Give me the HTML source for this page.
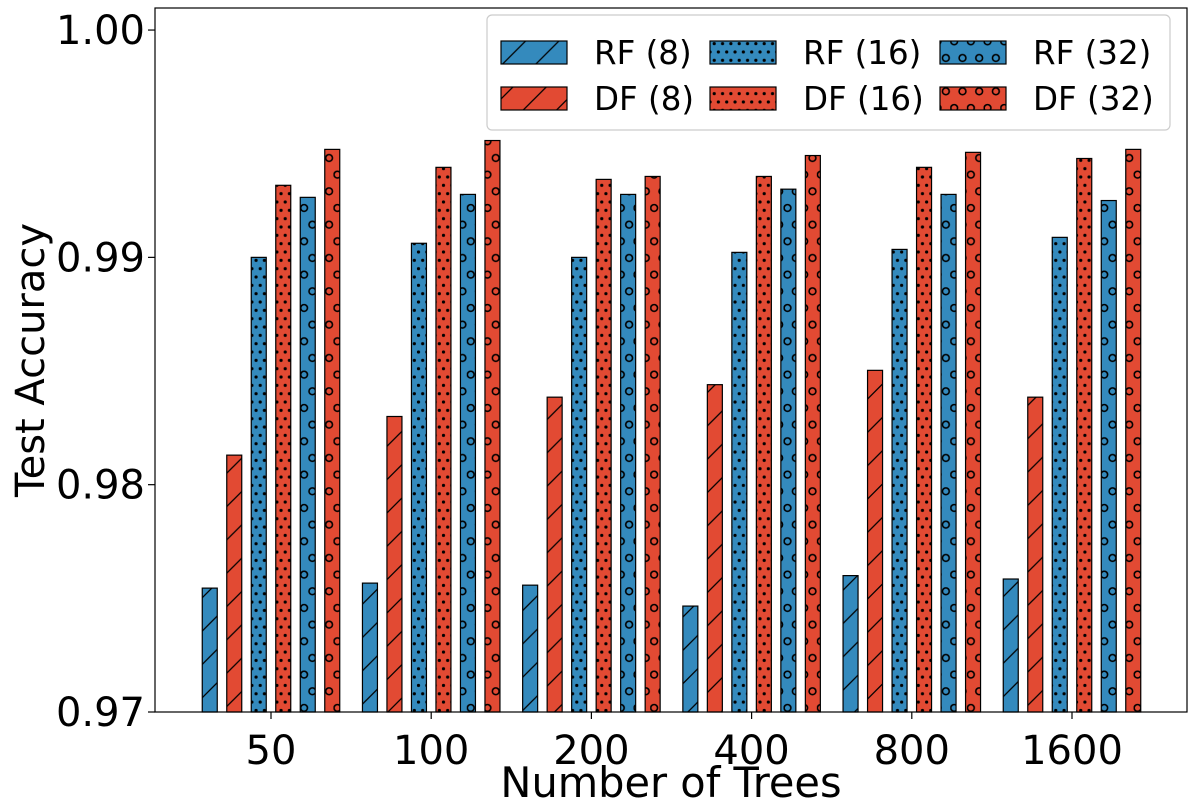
<!DOCTYPE html>
<html><head><meta charset="utf-8"><style>
body{margin:0;background:#fff;}
svg text{font-family:"DejaVu Sans","Liberation Sans",sans-serif;}
</style></head><body>
<svg id="chart" width="1200" height="800" viewBox="0 0 1200 800" xmlns="http://www.w3.org/2000/svg">
<defs>
<pattern id="p-slash" patternUnits="userSpaceOnUse" width="33.33" height="33.33">
<line x1="0" y1="33.33" x2="33.33" y2="0" stroke="#000" stroke-width="1.3"/>
<line x1="-5" y1="5" x2="5" y2="-5" stroke="#000" stroke-width="1.3"/>
<line x1="28.33" y1="38.33" x2="38.33" y2="28.33" stroke="#000" stroke-width="1.3"/>
</pattern>
<pattern id="p-dot" patternUnits="userSpaceOnUse" width="8.33" height="16.67">
<circle cx="2" cy="2" r="1.6" fill="#000"/>
<circle cx="6.17" cy="10.33" r="1.6" fill="#000"/>
</pattern>
<pattern id="p-circ" patternUnits="userSpaceOnUse" width="16.67" height="33.33">
<circle cx="4" cy="8" r="3.4" fill="none" stroke="#000" stroke-width="1.6"/>
<circle cx="12.33" cy="24.67" r="3.4" fill="none" stroke="#000" stroke-width="1.6"/>
</pattern>
</defs>
<g id="bars"></g>
<g id="axes"></g>
<g id="legend"></g>
</svg>
<script>
const categories = ["50","100","200","400","800","1600"];
const seriesNames = ["RF (8)","DF (8)","RF (16)","DF (16)","RF (32)","DF (32)"];
const rf8  = [0.97545,0.97567,0.97558,0.97466,0.97600,0.97585];
const df8  = [0.98130,0.98300,0.98385,0.98440,0.98503,0.98385];
const rf16 = [0.99000,0.99062,0.99000,0.99022,0.99035,0.99088];
const df16 = [0.99317,0.99396,0.99343,0.99356,0.99396,0.99435];
const rf32 = [0.99264,0.99277,0.99277,0.99300,0.99277,0.99250];
const df32 = [0.99475,0.99514,0.99356,0.99448,0.99462,0.99475];
const yTicks = [0.97,0.98,0.99,1.00];
const yTickLabels = ["0.97","0.98","0.99","1.00"];

const series=[rf8,df8,rf16,df16,rf32,df32];
const colors=["#348ABD","#E24A33","#348ABD","#E24A33","#348ABD","#E24A33"];
const pats=["p-slash","p-slash","p-dot","p-dot","p-circ","p-circ"];
const NS="http://www.w3.org/2000/svg";
const L=155,R=1187,T=8,B=712,yMin=0.97,yMax=1.00097;
const y=v=>B-(v-yMin)/(yMax-yMin)*(B-T);
const x=i=>271+i*160.2;
function mk(tag,attrs,parent){const e=document.createElementNS(NS,tag);for(const k in attrs)e.setAttribute(k,attrs[k]);parent.appendChild(e);return e;}
const gb=document.getElementById('bars'),ga=document.getElementById('axes'),gl=document.getElementById('legend');
const bw=15,step=24.5;
series.forEach((s,si)=>{
  s.forEach((v,ci)=>{
    const bx=x(ci)+(si-2.5)*step-bw/2, by=y(v);
    const r=mk('rect',{x:bx,y:by,width:bw,height:B-by,fill:colors[si]},gb);
    
    
    mk('rect',{x:bx,y:by,width:bw,height:B-by,fill:'url(#'+pats[si]+')',stroke:'#000','stroke-width':1.2},gb);
  });
});
const frame=mk('rect',{x:L,y:T,width:R-L,height:B-T,fill:'none',stroke:'#000','stroke-width':1.2},ga);


yTicks.forEach((t,i)=>{
  mk('line',{x1:L-7,x2:L,y1:y(t),y2:y(t),stroke:'#000','stroke-width':1.2},ga);
  const tx=mk('text',{x:L-10,y:y(t)+14,'text-anchor':'end','font-size':40},ga);
  tx.textContent=yTickLabels[i];
  
  
});
categories.forEach((c,i)=>{
  mk('line',{x1:x(i),x2:x(i),y1:B,y2:B+7,stroke:'#000','stroke-width':1.2},ga);
  const tx=mk('text',{x:x(i),y:B+52,'text-anchor':'middle','font-size':40},ga);
  tx.textContent=c;
  
  
});
const xt=mk('text',{x:671,y:797,'text-anchor':'middle','font-size':41.5},ga);
xt.textContent='Number of Trees';


const yt=mk('text',{x:0,y:0,'text-anchor':'middle','font-size':40,transform:'translate(44,360) rotate(-90)'},ga);
yt.textContent='Test Accuracy';


const lb=mk('rect',{x:487,y:15,width:683,height:115,rx:5,fill:'#fff','fill-opacity':0.85,stroke:'#ccc','stroke-width':1.2},gl);


const colX=[501,710,940];
seriesNames.forEach((n,si)=>{
  const col=Math.floor(si/2),row=si%2;
  const lx=colX[col], ly=41+row*46;
  const g=mk('g',{},gl);
  
  
  mk('rect',{x:lx,y:ly,width:66,height:23,fill:colors[si]},g);
  mk('rect',{x:lx,y:ly,width:66,height:23,fill:'url(#'+pats[si]+')',stroke:'#000','stroke-width':1.2},g);
  const t=mk('text',{x:lx+93,y:ly+23,'font-size':32.5},g);
  t.textContent=n;
});
</script>
</body></html>
